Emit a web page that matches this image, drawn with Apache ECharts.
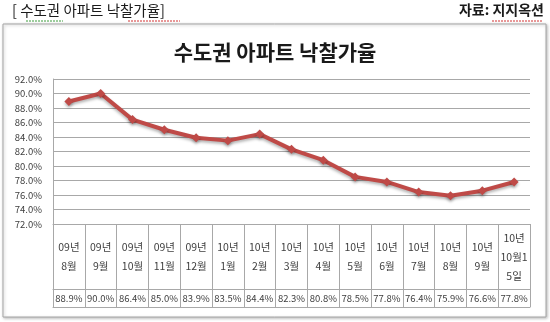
<!DOCTYPE html>
<html>
<head>
<meta charset="utf-8">
<script src="https://cdn.jsdelivr.net/npm/echarts@6/dist/echarts.min.js"></script>
<style>
  html, body { margin: 0; padding: 0; background: #fff; }
  #chart { width: 550px; height: 322px; }
</style>
</head>
<body>
<div id="chart"></div>
<script>
// 수도권 아파트 낙찰가율 (월별)
const categories = [
  '09년\n8월', '09년\n9월', '09년\n10월', '09년\n11월', '09년\n12월',
  '10년\n1월', '10년\n2월', '10년\n3월', '10년\n4월', '10년\n5월',
  '10년\n6월', '10년\n7월', '10년\n8월', '10년\n9월', '10년\n10월1\n5일'
];
const rates = [88.9, 90.0, 86.4, 85.0, 83.9, 83.5, 84.4, 82.3, 80.8, 78.5, 77.8, 76.4, 75.9, 76.6, 77.8];
const yTicks = { min: 72, max: 92, step: 2 };

const KR = '"Noto Sans CJK KR", "Noto Sans", sans-serif';
const gridColor = '#a8a8a8';
const textColor = '#404040';

const chart = echarts.init(document.getElementById('chart'), null, { renderer: 'canvas' });

chart.setOption({
  backgroundColor: '#ffffff',
  animation: false,
  textStyle: { fontFamily: KR },
  graphic: [
    // outer chart frame
    {
      type: 'rect', z: -10, silent: true,
      shape: { x: 3, y: 24, width: 543, height: 293 },
      style: { fill: '#fff', stroke: '#a6a6a6', lineWidth: 1, shadowBlur: 3, shadowColor: 'rgba(0,0,0,0.25)', shadowOffsetY: 1, shadowOffsetX: 1 }
    },
    // page heading and source note
    {
      type: 'text', left: 12, top: 3,
      style: { text: '[ 수도권 아파트 낙찰가율]', font: '14.5px ' + KR, fill: '#1a1a1a' }
    },
    {
      type: 'polyline', silent: true,
      shape: { points: [[26, 21], [63, 21]] },
      style: { stroke: '#3a9a3a', lineWidth: 1, lineDash: [2, 1] }
    },
    {
      type: 'polyline', silent: true,
      shape: { points: [[128, 21], [180, 21]] },
      style: { stroke: '#d03030', lineWidth: 1, lineDash: [2, 1] }
    },
    {
      type: 'text', right: 6, top: 3,
      style: { text: '자료: 지지옥션', font: 'bold 14px ' + KR, fill: '#1a1a1a' }
    },
    {
      type: 'polyline', silent: true,
      shape: { points: [[492, 21], [543, 21]] },
      style: { stroke: '#d03030', lineWidth: 1, lineDash: [2, 1] }
    }
  ],
  title: {
    text: '수도권 아파트 낙찰가율',
    left: 'center', top: 37,
    textStyle: { fontFamily: KR, fontSize: 21, fontWeight: 'bold', color: '#1a1a1a' }
  },
  grid: { left: 53, right: 20, top: 79, bottom: 98, containLabel: false },
  xAxis: [
    {
      type: 'category',
      data: categories,
      boundaryGap: true,
      position: 'bottom',
      axisLine: { show: true, lineStyle: { color: gridColor, width: 1 } },
      axisTick: { show: true, interval: 0, length: 83, lineStyle: { color: gridColor, width: 1 } },
      axisLabel: {
        interval: 0, margin: 33, verticalAlign: 'middle', lineHeight: 19,
        fontSize: 10.5, color: textColor, fontFamily: KR
      },
      splitLine: { show: false }
    },
    {
      type: 'category',
      data: categories,
      boundaryGap: true,
      position: 'bottom',
      offset: 65,
      axisLine: { show: true, lineStyle: { color: gridColor, width: 1 } },
      axisTick: { show: false },
      axisLabel: {
        interval: 0, margin: 9, verticalAlign: 'middle',
        fontSize: 9.5, color: textColor, fontFamily: KR,
        formatter: (v, i) => rates[i].toFixed(1) + '%'
      }
    },
    {
      type: 'category',
      data: categories,
      boundaryGap: true,
      position: 'bottom',
      offset: 83,
      axisLine: { show: true, lineStyle: { color: gridColor, width: 1 } },
      axisTick: { show: false },
      axisLabel: { show: false }
    }
  ],
  yAxis: {
    type: 'value',
    min: yTicks.min, max: yTicks.max, interval: yTicks.step,
    axisLine: { show: true, lineStyle: { color: gridColor, width: 1 } },
    axisTick: { show: false },
    axisLabel: {
      margin: 11, fontSize: 9.5, color: textColor, fontFamily: KR,
      formatter: v => v.toFixed(1) + '%'
    },
    splitLine: { show: true, lineStyle: { color: gridColor, width: 1 } }
  },
  series: [
    {
      type: 'line',
      data: rates,
      xAxisIndex: 0,
      symbol: 'diamond',
      symbolSize: 9,
      lineStyle: { color: '#bf4a47', width: 4, shadowColor: 'rgba(0,0,0,0.3)', shadowBlur: 3, shadowOffsetY: 2 },
      itemStyle: { color: '#bf4a47', shadowColor: 'rgba(0,0,0,0.3)', shadowBlur: 3, shadowOffsetY: 2 },
      z: 5
    }
  ]
});
</script>
</body>
</html>
